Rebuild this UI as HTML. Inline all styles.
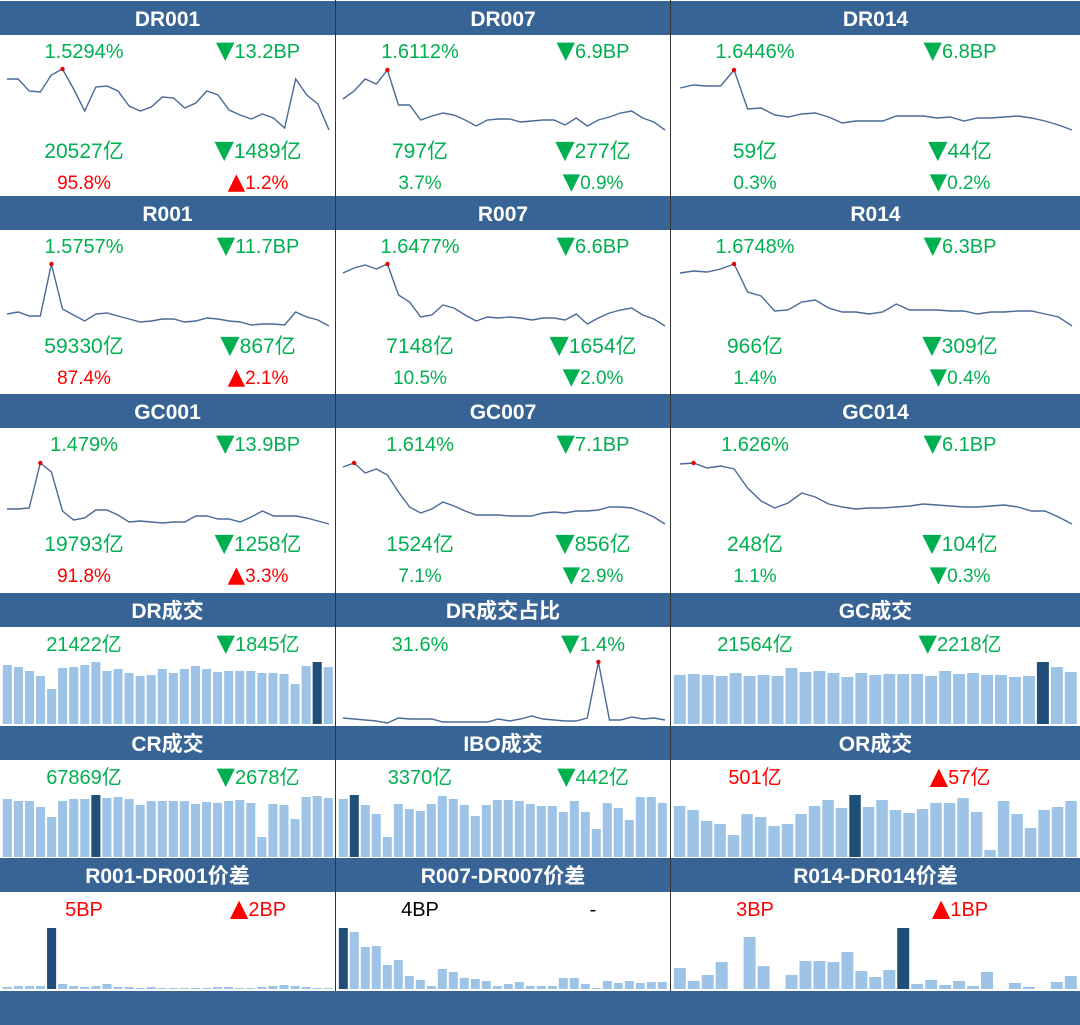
<!DOCTYPE html>
<html><head><meta charset="utf-8"><style>
html,body{margin:0;padding:0;background:#fff;}
svg{display:block;font-family:"Liberation Sans","Noto Sans CJK SC",sans-serif;}
</style></head><body>
<svg id="dash" width="1080" height="1025" viewBox="0 0 1080 1025" xmlns="http://www.w3.org/2000/svg"></svg>
<script>
// ---- line chart data ----
const dr001Series=[51,51,39,38,55,61,41,19,43,44,39,24,19,23,33,32,22,27,39,35,20,15,11,16,12,2,51,35,26,0];
const dr007Series=[31,39,51,46,60,25,25,10,14,17,15,10,4,10,11,11,8,9,10,10,5,12,4,10,13,17,19,12,8,0];
const dr014Series=[42,45,44,44,60,21,22,15,13,16,17,13,7,9,9,9,14,14,14,12,13,9,12,12,13,14,12,9,5,0];
const r001Series=[12,14,10,10,62,17,11,5,12,13,10,7,4,5,7,7,4,5,8,7,5,4,1,2,2,1,14,9,6,0];
const r007Series=[53,58,61,57,62,31,24,9,11,21,18,11,5,9,8,9,8,6,8,8,6,12,2,8,13,16,18,11,7,0];
const r014Series=[53,55,54,57,62,34,30,15,16,24,26,18,14,14,12,14,22,16,16,16,15,15,12,14,14,15,15,12,9,0];
const gc001Series=[15,15,16,61,52,13,4,6,14,14,9,2,3,2,1,2,2,8,8,5,5,2,7,13,8,8,8,6,3,0];
const gc007Series=[57,61,51,55,49,32,17,11,15,22,18,13,9,9,9,8,8,8,11,12,11,13,13,14,17,17,16,12,7,0];
const gc014Series=[60,61,56,58,55,36,23,16,21,31,27,20,17,15,16,16,17,18,20,19,18,17,17,18,19,17,13,13,7,0];
const drShareSeries=[5,4,3,2,0,5,4,4,4,1,1,1,1,1,4,2,4,7,4,3,2,2,5,61,3,3,6,4,5,3];
// ---- bar chart data ----
const drVolume=[59,57,53,48,35,56,57,59,62,53,55,51,48,49,55,51,55,58,55,52,53,53,53,51,51,50,40,58,62,57];
const gcVolume=[49,50,49,48,51,48,49,48,56,52,53,51,47,51,49,50,50,50,48,53,50,51,49,49,47,48,62,57,52];
const crVolume=[58,56,56,50,40,56,58,58,62,59,60,58,52,56,56,56,56,53,55,54,56,57,54,20,53,52,38,60,61,59];
const iboVolume=[58,62,52,43,20,53,48,46,53,61,58,52,41,52,57,57,56,53,51,51,45,56,45,28,54,49,37,60,60,54];
const orVolume=[51,47,36,33,22,43,40,31,33,43,51,57,49,62,50,57,47,44,48,54,54,59,45,7,56,43,29,47,50,56];
const spread001=[2,3,3,3,61,5,3,2,3,5,2,2,1,2,1,1,1,1,1,2,2,1,1,2,3,4,3,2,1,1];
const spread007=[61,57,42,43,24,29,13,9,3,20,17,11,10,8,3,5,7,3,3,3,11,11,5,1,8,6,8,6,7,7];
const spread014=[21,8,14,27,0,52,23,0,14,28,28,27,37,18,12,19,61,5,9,4,8,3,17,0,6,2,0,7,13];
// ---- titles ----
const panelTitles=[["DR001","DR007","DR014"],["R001","R007","R014"],["GC001","GC007","GC014"],["DR成交","DR成交占比","GC成交"],["CR成交","IBO成交","OR成交"],["R001-DR001价差","R007-DR007价差","R014-DR014价差"]];

const G="#00B050",RED="#FF0000",BLK="#000000";
const NS="http://www.w3.org/2000/svg";
const svg=document.getElementById('dash');
function mk(tag,attrs,parent){const e=document.createElementNS(NS,tag);for(const k in attrs)e.setAttribute(k,attrs[k]);(parent||svg).appendChild(e);return e;}
const colX=[[0,335],[336,670],[671,1080]];
const valX=[84,420,755], chgX=[258,593,960];
const lineX=[[7,329],[343,665],[680,1072]];
const barX=[[2,334],[338,668],[673,1078]];
const headY=[1,196,394,593,726,858];

headY.forEach((hy,r)=>{
  for(let c=0;c<3;c++){
    const h=mk('rect',{x:colX[c][0],y:hy,width:colX[c][1]-colX[c][0],height:34,fill:'#386395'});
    
    
    const t=mk('text',{x:(colX[c][0]+colX[c][1])/2,y:hy+25,'text-anchor':'middle',fill:'#fff','font-size':21,'font-weight':'bold'});
    t.textContent=panelTitles[r][c];
    
    
  }
});
const foot=mk('rect',{x:0,y:991,width:1080,height:34,fill:'#386395'});


[335,670].forEach(x=>{const l=mk('line',{x1:x+0.5,y1:0,x2:x+0.5,y2:991,stroke:'#333','stroke-width':1});

});

function txt(x,y,s,color,size,bold,name){
  const t=mk('text',{x:x,y:y,'text-anchor':'middle',fill:color,'font-size':size,'font-weight':bold?'bold':'normal'});
  if(s[0]==='▼'||s[0]==='▲'){
    const a=mk('tspan',{'font-family':'DejaVu Sans','font-size':size*1.2},t);
    a.textContent=s[0];
    const b=mk('tspan',{},t);
    b.textContent=s.slice(1);
  } else t.textContent=s;
  
  
}
const rowTexts=[
 [["1.5294%","▼13.2BP","20527亿","▼1489亿","95.8%","▲1.2%",RED],["1.6112%","▼6.9BP","797亿","▼277亿","3.7%","▼0.9%",G],["1.6446%","▼6.8BP","59亿","▼44亿","0.3%","▼0.2%",G]],
 [["1.5757%","▼11.7BP","59330亿","▼867亿","87.4%","▲2.1%",RED],["1.6477%","▼6.6BP","7148亿","▼1654亿","10.5%","▼2.0%",G],["1.6748%","▼6.3BP","966亿","▼309亿","1.4%","▼0.4%",G]],
 [["1.479%","▼13.9BP","19793亿","▼1258亿","91.8%","▲3.3%",RED],["1.614%","▼7.1BP","1524亿","▼856亿","7.1%","▼2.9%",G],["1.626%","▼6.1BP","248亿","▼104亿","1.1%","▼0.3%",G]]
];
rowTexts.forEach((row,r)=>{const hy=headY[r];row.forEach((d,c)=>{
  txt(valX[c],hy+57,d[0],G,20,false,'rate-value');
  txt(chgX[c],hy+57,d[1],G,20,false,'rate-change');
  txt(valX[c],hy+157,d[2],G,21,false,'volume-value');
  txt(chgX[c],hy+157,d[3],G,21,false,'volume-change');
  txt(valX[c],hy+188,d[4],d[6],19,false,'share-value');
  txt(chgX[c],hy+188,d[5],d[6],19,false,'share-change');
});});
const smallTexts=[
 [["21422亿",G,"▼1845亿",G],["31.6%",G,"▼1.4%",G],["21564亿",G,"▼2218亿",G]],
 [["67869亿",G,"▼2678亿",G],["3370亿",G,"▼442亿",G],["501亿",RED,"▲57亿",RED]],
 [["5BP",RED,"▲2BP",RED],["4BP",BLK,"-",BLK],["3BP",RED,"▲1BP",RED]]
];
smallTexts.forEach((row,i)=>{const hy=headY[i+3];row.forEach((d,c)=>{
  txt(valX[c],hy+58,d[0],d[1],20,false,'metric-value');
  txt(chgX[c],hy+58,d[2],d[3],20,false,'metric-change');
});});

function lineChart(vals,c,top,bottom,name){
  const mn=Math.min(...vals),mx=Math.max(...vals);
  const xs=i=>lineX[c][0]+i*(lineX[c][1]-lineX[c][0])/(vals.length-1);
  const ys=v=>bottom-(v-mn)/(mx-mn||1)*(bottom-top);
  const p=mk('polyline',{points:vals.map((v,i)=>xs(i).toFixed(1)+','+ys(v).toFixed(1)).join(' '),fill:'none',stroke:'#4A6A97','stroke-width':1.4});
  
  
  const mi=vals.indexOf(mx);
  const d=mk('circle',{cx:xs(mi),cy:ys(mx),r:2.2,fill:'#E00000'});
  
  
}
function barChart(vals,hi,c,base,maxH,name){
  const mx=Math.max(...vals);
  const pitch=(barX[c][1]-barX[c][0])/vals.length;
  vals.forEach((v,i)=>{
    const h=v/mx*maxH;
    const b=mk('rect',{x:barX[c][0]+i*pitch+0.8,y:base-h,width:pitch-2,height:h,fill:i===hi?'#1F4E79':'#9DC3E6'});
    
    
  });
}
lineChart(dr001Series,0,69,130,'dr001-line');
lineChart(dr007Series,1,70,130,'dr007-line');
lineChart(dr014Series,2,70,130,'dr014-line');
lineChart(r001Series,0,264,326,'r001-line');
lineChart(r007Series,1,264,326,'r007-line');
lineChart(r014Series,2,264,326,'r014-line');
lineChart(gc001Series,0,463,524,'gc001-line');
lineChart(gc007Series,1,463,524,'gc007-line');
lineChart(gc014Series,2,463,524,'gc014-line');
lineChart(drShareSeries,1,662,723,'dr-share-line');
barChart(drVolume,28,0,724,62,'dr-volume');
barChart(gcVolume,26,2,724,62,'gc-volume');
barChart(crVolume,8,0,857,62,'cr-volume');
barChart(iboVolume,1,1,857,62,'ibo-volume');
barChart(orVolume,13,2,857,62,'or-volume');
barChart(spread001,4,0,989,61,'r001-spread');
barChart(spread007,0,1,989,61,'r007-spread');
barChart(spread014,16,2,989,61,'r014-spread');
</script>
</body></html>
